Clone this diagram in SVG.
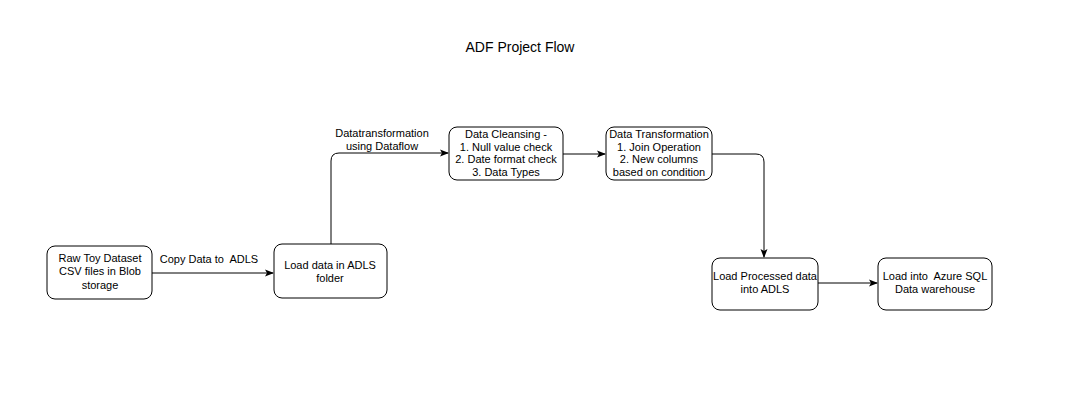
<svg xmlns="http://www.w3.org/2000/svg" width="1066" height="418" viewBox="0 0 1066 418">
<defs>
<style>
.n{fill:#fff;stroke:#000;stroke-width:1}
.t{font-family:"Liberation Sans",Arial,sans-serif;font-size:11px;fill:#000;text-anchor:middle;white-space:pre}
.e{fill:none;stroke:#000;stroke-width:1}
</style>
<marker id="a" markerWidth="10" markerHeight="10" refX="8" refY="5" orient="auto" markerUnits="userSpaceOnUse"><path d="M0,1.5 L9,5 L0,8.5 L2,5 Z" fill="#000"/></marker>
</defs>
<rect width="1066" height="418" fill="#fff"/>
<text x="520" y="52" class="t" style="font-size:14px">ADF Project Flow</text>
<g id="connectors">
<path class="e" d="M152,273 L273,273" marker-end="url(#a)"/>
<path class="e" d="M331,244 L331,161 Q331,153 339,153 L448,153" marker-end="url(#a)"/>
<path class="e" d="M563,154 L605,154" marker-end="url(#a)"/>
<path class="e" d="M712,154 L756,154 Q764,154 764,162 L764,257" marker-end="url(#a)"/>
<path class="e" d="M818,283 L877,283" marker-end="url(#a)"/>
<text x="209" y="263" class="t" xml:space="preserve">Copy Data to  ADLS</text>
<text x="382" y="137" class="t">Datatransformation</text>
<text x="382" y="150" class="t">using Dataflow</text>
</g>
<g id="raw">
<rect class="n" x="47" y="246" width="105" height="53" rx="8"/>
<text x="100" y="262" class="t">Raw Toy Dataset</text>
<text x="100" y="275" class="t">CSV files in Blob</text>
<text x="100" y="289" class="t">storage</text>
</g>
<g id="load-adls">
<rect class="n" x="274" y="244" width="113" height="54" rx="8"/>
<text x="330" y="269" class="t">Load data in ADLS</text>
<text x="330" y="282" class="t">folder</text>
</g>
<g id="cleansing">
<rect class="n" x="449" y="127" width="114" height="53" rx="8"/>
<text x="506" y="138" class="t">Data Cleansing -</text>
<text x="506" y="151" class="t">1. Null value check</text>
<text x="506" y="163" class="t">2. Date format check</text>
<text x="506" y="176" class="t">3. Data Types</text>
</g>
<g id="transformation">
<rect class="n" x="606" y="127" width="106" height="53" rx="8"/>
<text x="659" y="138" class="t">Data Transformation</text>
<text x="659" y="151" class="t">1. Join Operation</text>
<text x="659" y="163" class="t">2. New columns</text>
<text x="659" y="176" class="t">based on condition</text>
</g>
<g id="processed">
<rect class="n" x="712" y="258" width="106" height="52" rx="8"/>
<text x="765" y="280" class="t">Load Processed data</text>
<text x="765" y="293" class="t">into ADLS</text>
</g>
<g id="sql">
<rect class="n" x="878" y="258" width="114" height="52" rx="8"/>
<text x="935" y="280" class="t" xml:space="preserve">Load into  Azure SQL</text>
<text x="935" y="293" class="t">Data warehouse</text>
</g>
</svg>
